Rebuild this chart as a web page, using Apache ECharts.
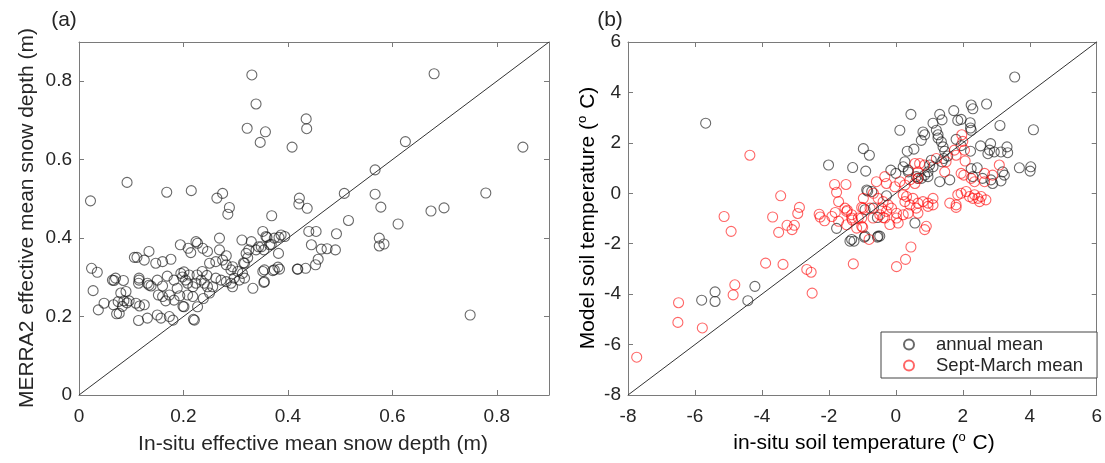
<!DOCTYPE html>
<html><head><meta charset="utf-8">
<script src="https://cdn.jsdelivr.net/npm/echarts@6/dist/echarts.min.js"></script>
<style>html,body{margin:0;padding:0;background:#fff}#c{width:1105px;height:463px}</style>
</head><body><div id="c"></div>
<script>
// Panel (a): [in-situ effective mean snow depth (m), MERRA2 effective mean snow depth (m)]
const snowPairs = [
[0.022,0.495],[0.092,0.542],[0.168,0.517],[0.215,0.521],[0.264,0.502],[0.275,0.514],[0.288,0.478],[0.285,0.461],[0.269,0.400],
[0.331,0.816],[0.680,0.819],[0.339,0.742],[0.322,0.680],[0.357,0.671],[0.347,0.644],[0.435,0.704],[0.436,0.679],[0.408,0.632],[0.625,0.646],[0.850,0.632],
[0.422,0.502],[0.421,0.487],[0.437,0.476],[0.369,0.457],[0.508,0.514],[0.567,0.574],[0.567,0.512],[0.578,0.479],[0.516,0.445],[0.611,0.436],
[0.440,0.417],[0.454,0.417],[0.493,0.411],[0.575,0.400],[0.575,0.380],[0.584,0.385],[0.445,0.383],[0.464,0.372],[0.475,0.373],[0.491,0.370],[0.458,0.346],[0.453,0.332],[0.382,0.361],[0.418,0.321],[0.434,0.323],[0.381,0.326],[0.384,0.321],[0.371,0.317],[0.352,0.315],[0.354,0.287],[0.333,0.272],
[0.352,0.417],[0.360,0.402],[0.368,0.384],[0.354,0.370],[0.383,0.402],[0.394,0.404],[0.344,0.378],[0.312,0.395],[0.330,0.391],[0.325,0.370],[0.323,0.350],[0.315,0.337],
[0.674,0.469],[0.699,0.477],[0.779,0.515],[0.749,0.204],
[0.024,0.323],[0.035,0.313],[0.027,0.266],[0.048,0.234],[0.037,0.217],
[0.066,0.230],[0.072,0.207],[0.077,0.208],[0.075,0.238],[0.070,0.298],[0.067,0.292],[0.085,0.292],[0.064,0.293],
[0.080,0.260],[0.090,0.264],[0.086,0.240],[0.092,0.235],[0.083,0.226],[0.096,0.240],
[0.109,0.234],[0.116,0.227],[0.125,0.230],[0.114,0.190],[0.131,0.196],
[0.106,0.351],[0.111,0.351],[0.125,0.344],[0.134,0.366],[0.147,0.336],[0.160,0.340],[0.176,0.346],[0.194,0.383],
[0.115,0.293],[0.131,0.285],[0.138,0.278],[0.150,0.293],[0.160,0.278],[0.169,0.303],[0.182,0.293],[0.188,0.272],
[0.115,0.298],[0.114,0.285],[0.134,0.280],
[0.152,0.255],[0.160,0.251],[0.166,0.240],[0.173,0.255],[0.182,0.242],[0.193,0.253],[0.199,0.226],[0.208,0.255],
[0.150,0.204],[0.157,0.196],[0.173,0.200],[0.180,0.191],
[0.195,0.310],[0.201,0.314],[0.198,0.301],[0.204,0.293],[0.211,0.306],[0.208,0.285],
[0.219,0.193],[0.201,0.225],[0.227,0.225],[0.218,0.276],[0.218,0.251],[0.224,0.285],
[0.209,0.374],[0.214,0.363],[0.224,0.391],[0.227,0.387],[0.237,0.374],[0.246,0.366],
[0.250,0.336],[0.262,0.340],[0.275,0.344],[0.282,0.332],
[0.234,0.293],[0.240,0.285],[0.246,0.276],[0.250,0.260],[0.256,0.276],
[0.262,0.298],[0.272,0.293],[0.282,0.289],[0.291,0.285],[0.294,0.276],
[0.282,0.355],[0.269,0.370],[0.294,0.327],[0.291,0.319],[0.304,0.315],[0.313,0.310],
[0.355,0.319],[0.374,0.319],[0.419,0.321],[0.355,0.289],
[0.317,0.298],[0.307,0.293],[0.297,0.298],
[0.320,0.361],[0.317,0.336],
[0.365,0.383],[0.349,0.378],[0.339,0.370],[0.358,0.404],[0.374,0.400],[0.387,0.408],
[0.226,0.306],[0.236,0.315],[0.245,0.305],[0.238,0.246],[0.221,0.191]
];
// Panel (b): [in-situ soil temperature (°C), model soil temperature (°C)]
const annualPairs = [
[-5.68,2.78],[-2.01,1.12],[-0.97,1.77],[-0.79,1.51],[-1.29,1.02],[-0.90,0.88],[-0.84,0.09],[-0.92,-0.65],[-0.67,-0.59],[-0.55,-0.96],[-1.77,-1.39],[-1.37,-1.90],[-1.25,-1.90],[-0.94,-1.74],[-0.55,-1.74],
[-5.80,-4.24],[-5.40,-3.91],[-5.40,-4.29],[-4.42,-4.26],[-4.21,-3.69],
[3.55,4.61],[2.25,3.50],[2.30,3.35],[2.71,3.54],[1.73,3.28],[1.85,2.89],[1.95,2.93],[2.22,2.80],[2.23,2.59],[2.25,2.50],[0.45,3.13],[1.31,3.13],[1.38,2.91],[1.11,2.78],[0.12,2.50],[0.81,2.43],[0.86,2.32],[0.76,2.10],[1.21,2.50],[1.26,2.32],[1.26,2.19],[1.36,2.04],[1.80,2.14],[3.11,2.69],[4.11,2.52],
[0.34,1.67],[0.54,1.75],[1.41,1.84],[1.46,1.67],[1.55,1.48],[1.43,1.38],[1.38,1.25],[1.95,1.89],[2.23,1.67],[2.53,1.88],[2.83,1.97],[2.80,1.71],[2.75,1.57],[2.94,1.64],[3.14,1.64],[3.34,1.61],[3.32,1.84],
[1.06,1.31],[1.01,1.12],[1.11,1.05],[0.96,0.85],[0.86,0.72],[0.27,1.25],[0.22,1.05],[0.37,0.85],[0.37,0.92],[0.61,0.66],[0.66,0.59],[0.76,0.59],[0.96,0.66],[-0.15,0.92],[0.0,0.79],[1.31,0.46],[1.61,0.53],
[2.25,0.98],[2.43,1.01],[2.30,0.66],[2.59,0.59],[2.84,0.53],[2.89,0.39],[3.14,0.49],[3.24,0.72],[3.19,0.85],[3.69,1.01],[4.01,0.88],[4.03,1.05],
[-0.28,-0.10],[-0.87,0.13],[-0.72,0.07],[0.57,-1.18],[-0.53,-1.70],[-0.92,-1.70],[-1.32,-1.83],[-0.48,-1.70]
];
const septPairs = [
[-7.74,-6.50],[-6.49,-4.34],[-6.51,-5.12],[-5.78,-5.34],[-4.86,-4.03],[-4.81,-3.63],[-4.36,1.51],[-5.13,-0.92],[-4.92,-1.51],[-3.89,-2.77],[-3.37,-2.82],[-3.68,-0.94],[-3.50,-1.55],[-3.44,-0.10],[-3.25,-1.27],[-3.10,-1.44],[-3.03,-1.27],[-2.93,-0.80],[-2.88,-0.56],[-2.66,-3.02],[-2.53,-3.13],[-2.50,-3.96],
[-2.29,-0.83],[-2.26,-0.94],[-2.13,-1.09],[-1.91,-0.92],[-1.81,-0.76],[-1.83,0.35],[-1.77,0.04],[-1.71,-0.33],[-1.49,0.35],[-1.45,-0.67],[-1.30,-1.06],[-1.12,-0.98],[-1.02,-0.56],[-0.99,-1.35],[-1.27,-2.80],[-0.97,-0.20],[-0.67,0.0],[-0.58,0.46],[-0.80,-1.83],
[1.97,2.32],[2.00,2.06],[1.75,1.71],[1.80,1.51],[2.05,1.71],[2.07,1.28],[1.21,1.38],[1.50,1.25],[1.46,0.85],[0.57,1.18],[0.71,1.18],[0.86,1.12],[0.66,0.85],[3.09,1.12],
[1.95,0.79],[2.03,0.72],[2.25,0.59],[2.35,0.46],[2.65,0.79],[2.65,0.46],[2.89,0.72],
[1.85,-0.06],[1.95,0.0],[2.10,0.07],[2.20,-0.13],[2.35,-0.06],[2.45,-0.20],[2.55,-0.13],[2.69,-0.26],[2.50,-0.33],[2.30,-0.20],[1.61,-0.39],[1.80,-0.46],[1.80,-0.56],
[0.81,-0.33],[0.96,-0.39],[1.11,-0.20],[1.11,-0.46],[0.96,-0.52],[0.66,-0.39],[0.51,-0.20],[0.32,-0.13],[0.22,-0.06],[0.27,-0.33],[0.42,-0.46],[0.61,-0.59],[0.66,-0.79],[0.37,-0.79],[0.22,-0.85],[0.02,-0.79],[0.02,-0.98],[0.07,-1.18],[-0.18,-1.24],
[0.91,-1.31],[0.86,-1.44],
[-0.33,0.66],[-0.28,0.39],[-0.03,0.26],[0.12,0.46],[0.27,0.33],[0.42,0.53],[0.57,0.39],[0.66,0.59],
[-0.53,-0.20],[-0.38,-0.33],[-0.23,-0.46],[-0.13,-0.59],[-0.28,-0.72],[-0.43,-0.59],[-0.48,-0.85],[-0.38,-0.96],[-0.33,-0.98],[-0.68,-0.98],[-0.77,-0.59],[-0.97,-0.59],[-1.02,-0.98],[-1.32,-0.98],[-1.32,-0.85],[-1.47,-0.72],[-1.52,-0.59],[-1.02,-1.31],[-1.17,-1.38],[-1.47,-1.25],[-1.71,-1.11],
[0.45,-2.13],[0.29,-2.62],[0.02,-2.91]
];
const snowRange = [0, 0.9];
const tempRange = [-8, 6];
const seriesNames = ['annual mean', 'Sept-March mean'];

const FONT = '"Liberation Sans", Arial, sans-serif';
const boxColor = '#7a7a7a';
const textColor = '#262626';
const blackMark = 'rgba(20,20,20,0.8)';
const redMark = 'rgba(255,0,0,0.75)';

function axisPair(grid, range, interval, isX, showMax) {
  const base = {
    gridIndex: grid, type: 'value', min: range[0], max: range[1], interval: interval,
    splitLine: {show: false},
    axisLine: {show: true, onZero: false, lineStyle: {color: boxColor, width: 1}},
    axisTick: {show: true, inside: true, length: 5, lineStyle: {color: boxColor}},
  };
  const main = Object.assign({}, base, {
    position: isX ? 'bottom' : 'left',
    axisLabel: {show: true, showMaxLabel: showMax, fontSize: 19, color: textColor, fontFamily: FONT, margin: isX ? 12 : 7}
  });
  const opp = Object.assign({}, base, {
    position: isX ? 'top' : 'right',
    axisLabel: {show: false}
  });
  return [main, opp];
}

const xA = [...axisPair(0, snowRange, 0.2, true, false), ...axisPair(1, tempRange, 2, true, true)];
const yA = [...axisPair(0, snowRange, 0.2, false, false), ...axisPair(1, tempRange, 2, false, true)];

const supRich = {
  a: {fontSize: 21, fontFamily: FONT, color: textColor, lineHeight: 24},
  s: {fontSize: 13, fontFamily: FONT, color: textColor, verticalAlign: 'top', lineHeight: 24, padding: [0, 1, 11, 0]}
};

const chart = echarts.init(document.getElementById('c'), null, {renderer: 'canvas'});
chart.setOption({
  backgroundColor: '#fff',
  animation: false,
  grid: [
    {left: 79, top: 42, width: 470, height: 353},
    {left: 628, top: 42, width: 472, height: 353}
  ],
  xAxis: xA,
  yAxis: yA,
  legend: {
    data: seriesNames,
    orient: 'vertical', left: 881, top: 332,
    backgroundColor: '#fff',
    borderColor: '#444', borderWidth: 1,
    padding: [3, 14, 3, 22], itemGap: 2,
    itemWidth: 10, itemHeight: 10,
    textStyle: {fontSize: 18.5, color: textColor, fontFamily: FONT, padding: [0, 0, 0, 17]}
  },
  series: [
    {type: 'line', xAxisIndex: 0, yAxisIndex: 0, data: [[snowRange[0], snowRange[0]], [snowRange[1], snowRange[1]]],
     symbol: 'none', lineStyle: {color: '#333', width: 1}, silent: true},
    {type: 'line', xAxisIndex: 2, yAxisIndex: 2, data: [[tempRange[0], tempRange[0]], [tempRange[1], tempRange[1]]],
     symbol: 'none', lineStyle: {color: '#333', width: 1}, silent: true},
    {type: 'scatter', name: 'snow', xAxisIndex: 0, yAxisIndex: 0, data: snowPairs, symbol: 'circle', symbolSize: 10,
     itemStyle: {color: 'rgba(0,0,0,0)', borderColor: blackMark, borderWidth: 1.1}},
    {type: 'scatter', name: seriesNames[0], xAxisIndex: 2, yAxisIndex: 2, data: annualPairs, symbol: 'circle', symbolSize: 10,
     itemStyle: {color: 'rgba(0,0,0,0)', borderColor: blackMark, borderWidth: 1.1}},
    {type: 'scatter', name: seriesNames[1], xAxisIndex: 2, yAxisIndex: 2, data: septPairs, symbol: 'circle', symbolSize: 10,
     itemStyle: {color: 'rgba(0,0,0,0)', borderColor: redMark, borderWidth: 1.1}}
  ],
  graphic: [
    {type: 'text', x: 64, y: 20, style: {text: '(a)', fontSize: 21, fontFamily: FONT, fill: textColor, align: 'center', verticalAlign: 'middle'}},
    {type: 'text', x: 610, y: 20, style: {text: '(b)', fontSize: 21, fontFamily: FONT, fill: textColor, align: 'center', verticalAlign: 'middle'}},
    {type: 'text', x: 313, y: 444, style: {text: 'In-situ effective mean snow depth (m)', fontSize: 21, fontFamily: FONT, fill: textColor, align: 'center', verticalAlign: 'middle'}},
    {type: 'text', x: 27, y: 218, rotation: Math.PI / 2, style: {text: 'MERRA2 effective mean snow depth (m)', fontSize: 21, fontFamily: FONT, fill: textColor, align: 'center', verticalAlign: 'middle'}},
    {type: 'text', x: 864, y: 443, style: {text: '{a|in-situ soil temperature (}{s|o}{a| C)}', align: 'center', verticalAlign: 'middle', rich: supRich}},
    {type: 'text', x: 588, y: 218, rotation: Math.PI / 2, style: {text: '{a|Model soil temperature (}{s|o}{a| C)}', align: 'center', verticalAlign: 'middle', rich: supRich}}
  ]
});
</script>
</body></html>
